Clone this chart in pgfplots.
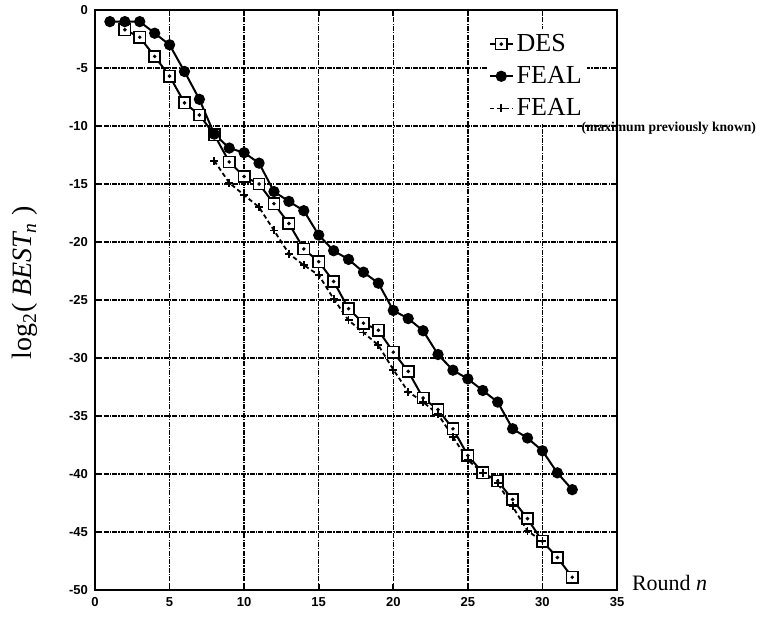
\documentclass[border=0pt]{standalone}
\usepackage{fontspec}
\setmainfont{Liberation Serif}
\setsansfont{Liberation Sans}
\usepackage{pgfplots}
\pgfplotsset{compat=1.18}

% open square with a dot in the middle
\pgfdeclareplotmark{sqdot}{%
  \pgfpathrectangle{\pgfqpoint{-\pgfplotmarksize}{-\pgfplotmarksize}}%
    {\pgfqpoint{2\pgfplotmarksize}{2\pgfplotmarksize}}%
  \pgfusepathqfillstroke
  \begin{pgfscope}%
  \pgfsetfillcolor{black}%
  \pgfpathcircle{\pgfpointorigin}{0.35\pgfplotmarksize}%
  \pgfusepathqfill
  \end{pgfscope}}

\begin{document}
\begin{tikzpicture}
\begin{axis}[scale only axis, width=261pt, height=290pt,
  xmin=0, xmax=35, ymin=-50, ymax=0,
  xtick={0,5,...,35}, ytick={-50,-45,...,0},
  grid=major,
  major grid style={black, line width=0.7pt, dash pattern=on 2.5pt off 0.6pt on 0.6pt off 0.6pt},
  axis line style={line width=1pt},
  tick style={black, line width=0.8pt}, major tick length=3pt, tick align=inside,
  /pgf/number format/assume math mode=true,
  tick label style={font=\fontsize{6.5}{7}\selectfont\sffamily\bfseries},
  xlabel={Round \textit{n}},
  xlabel style={at={(rel axis cs:1,0)}, anchor=base west, xshift=4pt,
    font=\fontsize{11}{12}\selectfont},
  ylabel={log\textsubscript{2}( \textit{BEST}\kern-1pt\textsubscript{\textit{n}} )},
  every axis y label/.style={at={(rel axis cs:-0.134,0.53)}, rotate=90, anchor=center,
    font=\fontsize{14}{15}\selectfont},
  legend cell align=left,
  legend image code/.code={\draw[mark repeat=2,mark phase=2]
    plot coordinates {(0cm,0cm)(0.2cm,0cm)(0.4cm,0cm)};},
  legend style={at={(rel axis cs:0.75,0.968)}, anchor=north west, draw=none,
    fill=white, font=\fontsize{13}{13}\selectfont, inner sep=1pt,
    nodes={inner sep=1.5pt}, row sep=3pt},
]
\addplot[black, line width=1pt, mark=sqdot, mark size=2.8pt,
  mark options={solid, fill=white, line width=0.8pt}]
  coordinates {(2,-1.7)(3,-2.35)(4,-4.0)(5,-5.7)(6,-8.0)(7,-9.05)(8,-10.75)
    (9,-13.1)(10,-14.35)(11,-15.0)(12,-16.7)(13,-18.4)(14,-20.6)(15,-21.7)
    (16,-23.4)(17,-25.75)(18,-27.0)(19,-27.6)(20,-29.5)(21,-31.15)(22,-33.45)
    (23,-34.45)(24,-36.1)(25,-38.4)(26,-39.9)(27,-40.6)(28,-42.2)(29,-43.85)
    (30,-45.8)(31,-47.2)(32,-48.9)};
\addlegendentry{DES}
\addplot[black, line width=1pt, mark=*, mark size=2.3pt]
  coordinates {(1,-1)(2,-1)(3,-1)(4,-2)(5,-3)(6,-5.3)(7,-7.7)(8,-10.7)
    (9,-11.9)(10,-12.3)(11,-13.2)(12,-15.65)(13,-16.5)(14,-17.3)(15,-19.4)
    (16,-20.75)(17,-21.5)(18,-22.6)(19,-23.55)(20,-25.9)(21,-26.6)(22,-27.65)
    (23,-29.7)(24,-31.05)(25,-31.8)(26,-32.8)(27,-33.8)(28,-36.1)(29,-36.9)
    (30,-38.0)(31,-39.9)(32,-41.35)};
\addlegendentry{FEAL}
\addplot[black, line width=0.9pt, dash pattern=on 2.2pt off 1.5pt, mark=+, mark size=2pt,
  mark options={solid, line width=0.9pt}]
  coordinates {(8,-13.0)(9,-14.9)(10,-15.95)(11,-17.0)(12,-19.0)(13,-21.0)
    (14,-22.0)(15,-22.85)(16,-24.9)(17,-26.75)(18,-27.8)(19,-28.9)(20,-31.0)
    (21,-32.9)(22,-33.8)(23,-34.85)(24,-36.8)(25,-38.8)(26,-39.9)(27,-40.8)
    (28,-42.8)(29,-44.9)(30,-45.8)};
\addlegendentry{FEAL\rlap{\raisebox{-8pt}{\fontsize{6.8}{7}\selectfont\bfseries (maximum previously known)}}}
\end{axis}
\pgfresetboundingbox
\useasboundingbox (-47.5pt,-13.5pt) rectangle (335.5pt,295pt);
\end{tikzpicture}
\end{document}
